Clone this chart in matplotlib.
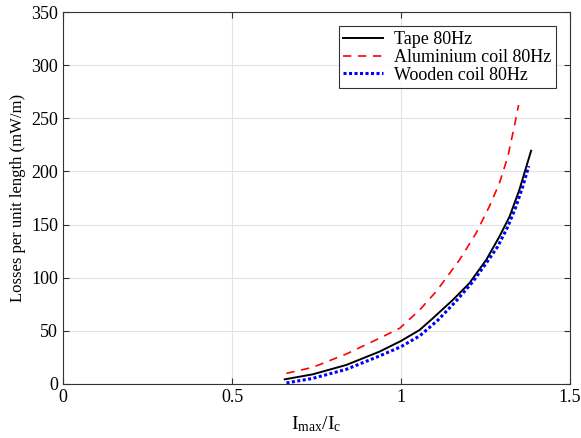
import numpy as np
import matplotlib
matplotlib.use("Agg")
import matplotlib.pyplot as plt

plt.rcParams['font.family'] = ['Liberation Serif', 'DejaVu Serif']
plt.rcParams['mathtext.fontset'] = 'custom'
plt.rcParams['mathtext.rm'] = 'Liberation Serif'

# ===== Data =====
tape_x = [0.656, 0.739, 0.838, 0.936, 1.0, 1.055, 1.094, 1.153, 1.202, 1.252,
          1.291, 1.321, 1.350, 1.385]
tape_y = [4.4, 9.1, 17.9, 30.4, 40.5, 50.8, 61.8, 79, 94.7, 116.7,
          138.6, 157.4, 182.5, 219.5]

alu_x = [0.661, 0.739, 0.838, 0.936, 0.996, 1.055, 1.104, 1.173, 1.222, 1.261,
         1.291, 1.316, 1.335, 1.348]
alu_y = [10, 15.7, 28.2, 43, 52.4, 69.6, 87, 116.7, 141.8, 166.8,
         188.8, 213.9, 242, 262.5]

wood_x = [0.661, 0.739, 0.838, 0.936, 1.0, 1.055, 1.109, 1.163, 1.212, 1.252,
          1.286, 1.316, 1.340, 1.360, 1.378]
wood_y = [1.0, 5.3, 13.8, 26.3, 35.1, 45.2, 60, 78, 96, 113.6,
          129.2, 148, 166.8, 185.6, 205]

labels = ['Tape 80Hz', 'Aluminium coil 80Hz', 'Wooden coil 80Hz']
x_ticks = [0, 0.5, 1, 1.5]
x_ticklabels = ['0', '0.5', '1', '1.5']
y_ticks = [0, 50, 100, 150, 200, 250, 300, 350]

fig = plt.figure(figsize=(5.81, 4.38), dpi=100)
ax = fig.add_axes([63 / 581, 54 / 438, 507 / 581, 372 / 438])

ax.plot(tape_x, tape_y, color='black', lw=1.4, ls='-', label=labels[0])
ax.plot(alu_x, alu_y, color='red', lw=1.2, ls=(0, (5, 4)), label=labels[1])
ax.plot(wood_x, wood_y, color='blue', lw=2.2, ls=(0, (1, 0.8)), label=labels[2])

ax.set_xlim(0, 1.5)
ax.set_ylim(0, 350)
ax.set_xticks(x_ticks)
ax.set_xticklabels(x_ticklabels)
ax.set_yticks(y_ticks)

ax.grid(True, color='#e3e3e3', lw=0.8)
ax.set_axisbelow(True)
ax.tick_params(direction='in', top=True, right=True, labelsize=13, length=4,
               color='#333333')
for s in ax.spines.values():
    s.set_color('#333333')
    s.set_linewidth(0.8)

ax.set_xlabel(r'$\mathrm{I_{max}/I_c}$', fontsize=14, labelpad=6)
ax.set_ylabel('Losses per unit length (mW/m)', fontsize=12, labelpad=4)

leg = ax.legend(loc='upper right', fontsize=13, frameon=True, fancybox=False,
                edgecolor='black', handlelength=2.2, borderaxespad=0.8,
                borderpad=0.25, labelspacing=0.05, handletextpad=0.6)
leg.get_frame().set_linewidth(0.8)

fig.savefig('out.png', dpi=100)
